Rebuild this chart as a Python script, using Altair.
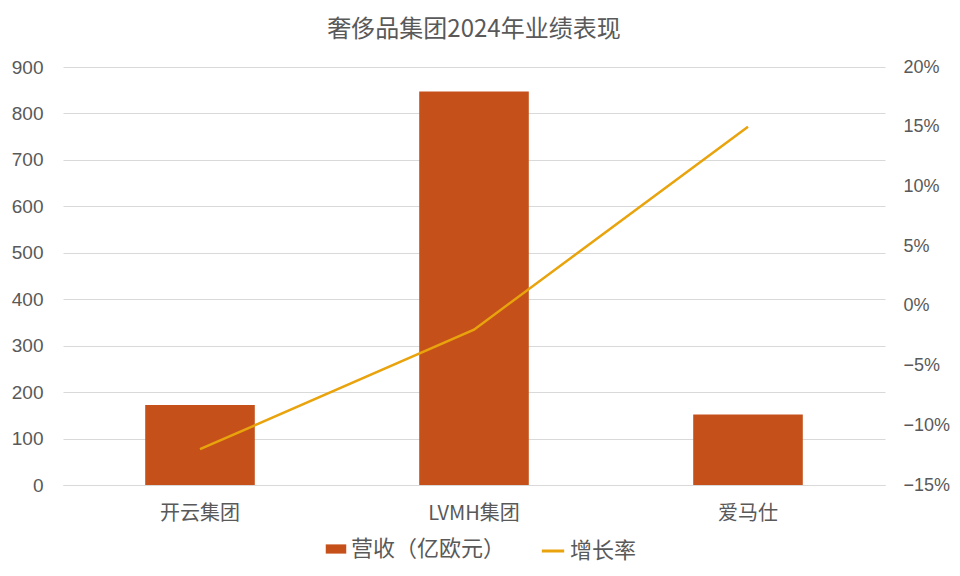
import altair as alt
import pandas as pd

categories = ["开云集团", "LVMH集团", "爱马仕"]
revenue = [172, 847, 152]          # 营收（亿欧元）
growth = [-0.12, -0.02, 0.15]      # 增长率

df = pd.DataFrame({
    "公司": categories,
    "营收": revenue,
    "增长率": growth,
    "s1": ["营收（亿欧元）"] * 3,
    "s2": ["增长率"] * 3,
})

FONT_CJK = "Noto Sans CJK SC"
FONT_NUM = "Liberation Sans"
GREY = "#595959"

x = alt.X(
    "公司:N",
    sort=categories,
    title=None,
    scale=alt.Scale(paddingInner=0.6, paddingOuter=0.3),
    axis=alt.Axis(
        labelAngle=0, labelFont=FONT_CJK, labelFontSize=20, labelColor=GREY,
        labelPadding=18, ticks=False, domainColor="#d9d9d9", domainWidth=1.2,
        grid=False,
    ),
)

bars = alt.Chart(df).mark_bar(color="#C5501A").encode(
    x=x,
    y=alt.Y(
        "营收:Q",
        title=None,
        scale=alt.Scale(domain=[0, 900], nice=False),
        axis=alt.Axis(
            values=list(range(0, 901, 100)), labelFont=FONT_NUM, labelFontSize=19,
            labelColor=GREY, labelPadding=20, ticks=False, domain=False,
            gridColor="#d9d9d9", gridWidth=1,
        ),
    ),
    color=alt.Color(
        "s1:N", title=None,
        scale=alt.Scale(domain=["营收（亿欧元）"], range=["#C5501A"]),
        legend=alt.Legend(
            orient="none", legendX=262, legendY=471,
            symbolType="M-1,-0.45H1V0.45H-1Z", symbolSize=420,
            labelFont=FONT_CJK, labelFontSize=22, labelColor=GREY,
            symbolStrokeWidth=0, labelOffset=4,
        ),
    ),
)

line = alt.Chart(df).mark_line(color="#E9A30C", strokeWidth=2.5).encode(
    x=x,
    y=alt.Y(
        "增长率:Q",
        title=None,
        scale=alt.Scale(domain=[-0.15, 0.20], nice=False),
        axis=alt.Axis(
            orient="right", format=".0%",
            values=[-0.15, -0.10, -0.05, 0, 0.05, 0.10, 0.15, 0.20],
            labelFont=FONT_NUM, labelFontSize=18, labelColor=GREY,
            labelPadding=18, ticks=False, domain=False, grid=False,
        ),
    ),
    stroke=alt.Stroke(
        "s2:N", title=None,
        scale=alt.Scale(domain=["增长率"], range=["#E9A30C"]),
        legend=alt.Legend(
            orient="none", legendX=477, legendY=471,
            symbolType="stroke", symbolSize=500, symbolStrokeWidth=3,
            labelFont=FONT_CJK, labelFontSize=22, labelColor=GREY,
            labelOffset=4,
        ),
    ),
)

chart = (
    alt.layer(bars, line)
    .resolve_scale(y="independent", color="independent", stroke="independent")
    .properties(
        width=822,
        height=418,
        padding={"left": 55, "top": 59, "right": 67, "bottom": 83},
        autosize=alt.AutoSizeParams(type="none"),
        title=alt.TitleParams(
            "奢侈品集团2024年业绩表现", font=FONT_CJK, fontSize=24,
            fontWeight="normal", color=GREY, anchor="middle", offset=16,
        ),
    )
    .configure(background="white")
    .configure_view(strokeWidth=0, stroke="transparent")
)

chart.save("out.html", embed_options={"renderer": "svg", "actions": False})
